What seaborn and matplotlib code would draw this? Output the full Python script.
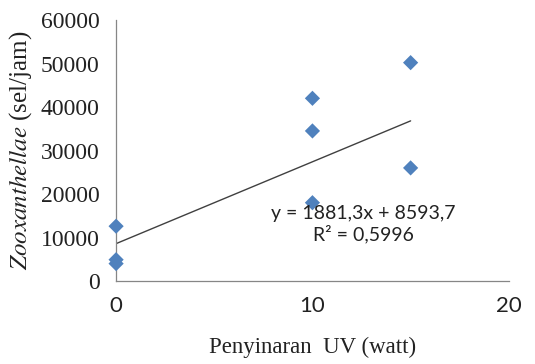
import matplotlib
matplotlib.use("Agg")
import matplotlib.pyplot as plt
import seaborn as sns
import pandas as pd
import numpy as np

# data
uv_watt = [0, 0, 0, 10, 10, 10, 15, 15]
zoox = [12600, 4900, 4000, 42000, 34500, 18000, 50200, 26000]
slope = 1881.3
intercept = 8593.7
r2_text = "R\u00b2 = 0,5996"
eq_text = "y = 1881,3x + 8593,7"
x_ticks = [0, 10, 20]
y_ticks = [0, 10000, 20000, 30000, 40000, 50000, 60000]

df = pd.DataFrame({"uv": uv_watt, "zoox": zoox})

sns.set_style("white")
plt.rcParams["font.family"] = ["Liberation Serif"]
plt.rcParams["mathtext.fontset"] = "stix"
plt.rcParams["ytick.labelsize"] = 17
plt.rcParams["xtick.labelsize"] = 16

fig = plt.figure(figsize=(5.35, 3.64), dpi=100)
ax = fig.add_axes([0.217, 0.228, 0.734, 0.717])

sns.scatterplot(data=df, x="uv", y="zoox", marker="D", s=60, color="#4F81BD",
                edgecolor="none", ax=ax, clip_on=False, zorder=3)

# trend line from the Excel equation
xl = np.array([min(uv_watt), max(uv_watt)])
ax.plot(xl, slope * xl + intercept, color="#404040", lw=1.0, zorder=2)

ax.set_xlim(0, 20)
ax.set_ylim(0, 60000)
ax.set_xticks(x_ticks)
ax.set_yticks(y_ticks)
ax.tick_params(axis="both", direction="out", length=4, width=0.8, color="#868686",
               labelcolor="#222222")
ax.tick_params(axis="x", pad=7)
ax.tick_params(axis="y", pad=8)

for s in ["top", "right"]:
    ax.spines[s].set_visible(False)
for s in ["left", "bottom"]:
    ax.spines[s].set_color("#868686")
    ax.spines[s].set_linewidth(0.9)

ax.set_xlabel("Penyinaran  UV (watt)", fontsize=16.5, color="#222222", labelpad=15)
ax.set_ylabel(r"$\it{Zooxanthellae}$ (sel/jam)", fontsize=18, color="#222222",
              labelpad=5)

ax.text(12.6, 15500, eq_text, fontfamily="Lato", fontsize=14, ha="center",
        va="center", color="#222222")
ax.text(12.6, 10900, r2_text, fontfamily="Lato", fontsize=14, ha="center",
        va="center", color="#222222")

fig.canvas.draw()
for lab in ax.get_xticklabels():
    lab.set_fontfamily("Lato")

fig.savefig("out.png", dpi=100)
